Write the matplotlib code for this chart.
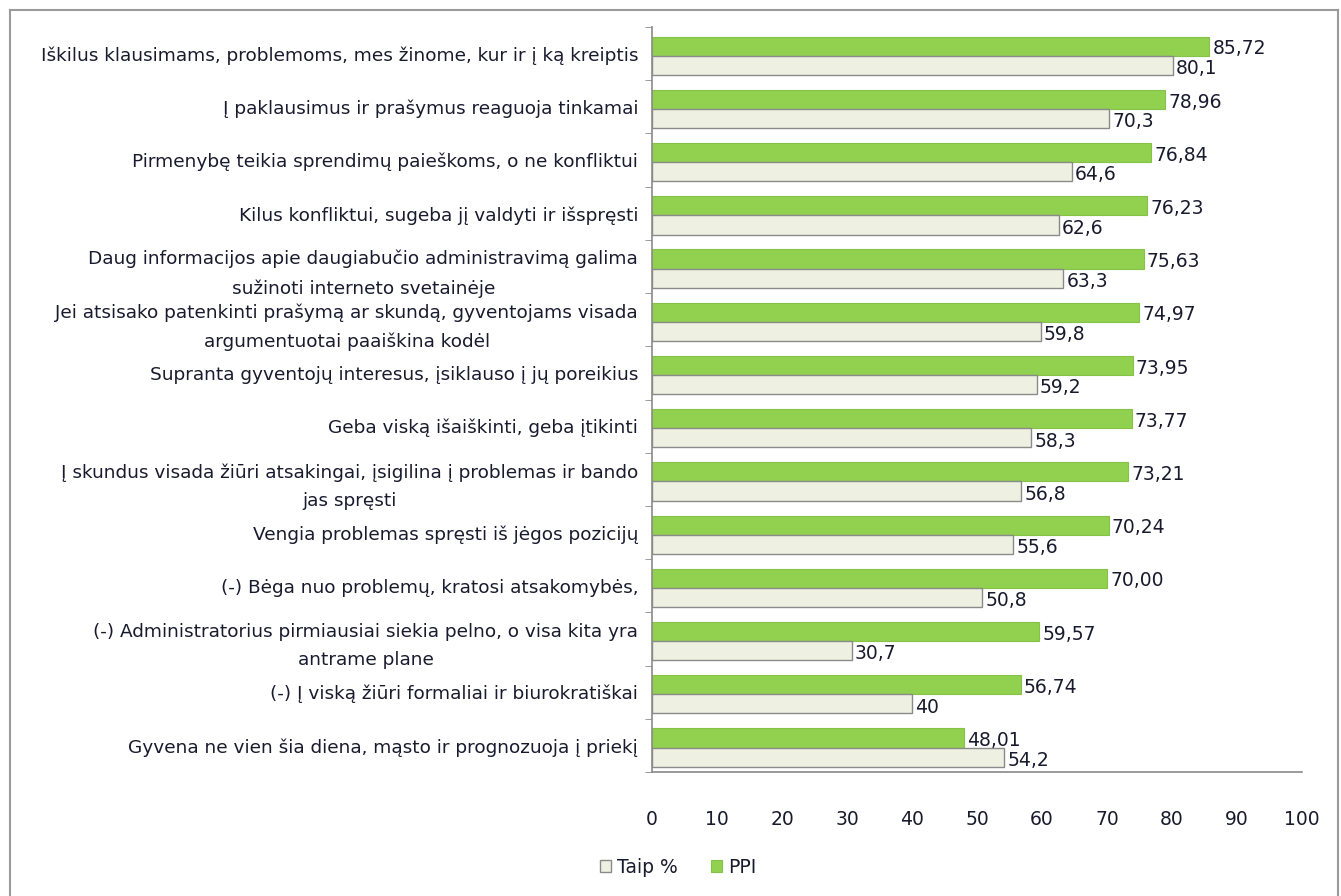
import matplotlib
matplotlib.use("Agg")
import matplotlib.pyplot as plt
from matplotlib.lines import Line2D
import numpy as np

plt.rcParams['font.family'] = ['DejaVu Sans']

categories = [
    "Iškilus klausimams, problemoms, mes žinome, kur ir į ką kreiptis",
    "Į paklausimus ir prašymus reaguoja tinkamai",
    "Pirmenybę teikia sprendimų paieškoms, o ne konfliktui",
    "Kilus konfliktui, sugeba jį valdyti ir išspręsti",
    "Daug informacijos apie daugiabučio administravimą galima\nsužinoti interneto svetainėje",
    "Jei atsisako patenkinti prašymą ar skundą, gyventojams visada\nargumentuotai paaiškina kodėl",
    "Supranta gyventojų interesus, įsiklauso į jų poreikius",
    "Geba viską išaiškinti, geba įtikinti",
    "Į skundus visada žiūri atsakingai, įsigilina į problemas ir bando\njas spręsti",
    "Vengia problemas spręsti iš jėgos pozicijų",
    "(-) Bėga nuo problemų, kratosi atsakomybės,",
    "(-) Administratorius pirmiausiai siekia pelno, o visa kita yra\nantrame plane",
    "(-) Į viską žiūri formaliai ir biurokratiškai",
    "Gyvena ne vien šia diena, mąsto ir prognozuoja į priekį",
]
ppi = [85.72, 78.96, 76.84, 76.23, 75.63, 74.97, 73.95, 73.77, 73.21, 70.24, 70.00, 59.57, 56.74, 48.01]
taip = [80.1, 70.3, 64.6, 62.6, 63.3, 59.8, 59.2, 58.3, 56.8, 55.6, 50.8, 30.7, 40, 54.2]
x_ticks = [0, 10, 20, 30, 40, 50, 60, 70, 80, 90, 100]

green = '#92D050'
light = '#EEF0E2'
text_col = '#1A1A2E'

fig = plt.figure(figsize=(13.41, 8.96), dpi=100)
W, H = 1341, 896
ax = fig.add_axes([652 / W, (H - 772) / H, 650 / W, 745 / H])

y = np.arange(len(categories))
h = 0.36
ax.barh(y - h / 2 + 0.04, ppi, height=h, color=green, edgecolor='#86C247', linewidth=0.8, label='PPI')
ax.barh(y + h / 2 + 0.04, taip, height=h, color=light, edgecolor='#8A8A8A', linewidth=1.0, label='Taip %')

for i, (p, t) in enumerate(zip(ppi, taip)):
    ax.text(p + 0.5, i - h / 2 + 0.09, f"{p:.2f}".replace('.', ','), va='center', ha='left',
            fontsize=13.5, color=text_col)
    ax.text(t + 0.5, i + h / 2 + 0.1, f"{t:g}".replace('.', ','), va='center', ha='left',
            fontsize=13.5, color=text_col)

ax.set_xlim(0, 100)
ax.set_ylim(len(categories) - 0.5, -0.5)
ax.set_xticks(x_ticks)
ax.set_xticklabels([str(v) for v in x_ticks], fontsize=13.5, color=text_col)
ax.tick_params(axis='x', length=0, pad=27)

ax.set_yticks(y)
ax.set_yticklabels(categories, fontsize=13.3, color=text_col, ha='right', multialignment='center',
                   linespacing=1.75)
ax.tick_params(axis='y', which='major', length=0, pad=10)
ax.set_yticks(np.arange(len(categories) + 1) - 0.5, minor=True)
ax.tick_params(axis='y', which='minor', length=5, color='#8A8A8A', direction='out')

for s in ['top', 'right']:
    ax.spines[s].set_visible(False)
for s in ['left', 'bottom']:
    ax.spines[s].set_color('#8A8A8A')
    ax.spines[s].set_linewidth(1.2)

# legend: light series first
handles, labels = ax.get_legend_handles_labels()
leg = fig.legend(handles[::-1], labels[::-1], loc='center', bbox_to_anchor=(678 / W, (H - 867) / H),
                 ncol=2, frameon=False, fontsize=13.5, handlelength=0.6, handleheight=0.6,
                 handletextpad=0.3, columnspacing=1.8)
for t in leg.get_texts():
    t.set_color(text_col)

# outer frame (open at the bottom)
frame_kw = dict(color='#9A9A9A', linewidth=1.5, transform=fig.transFigure)
fig.add_artist(Line2D([10 / W, 10 / W], [0, 1 - 10 / H], **frame_kw))
fig.add_artist(Line2D([10 / W, 1338 / W], [1 - 10 / H, 1 - 10 / H], **frame_kw))
fig.add_artist(Line2D([1338 / W, 1338 / W], [0, 1 - 10 / H], **frame_kw))

fig.savefig('out.png', dpi=100)
